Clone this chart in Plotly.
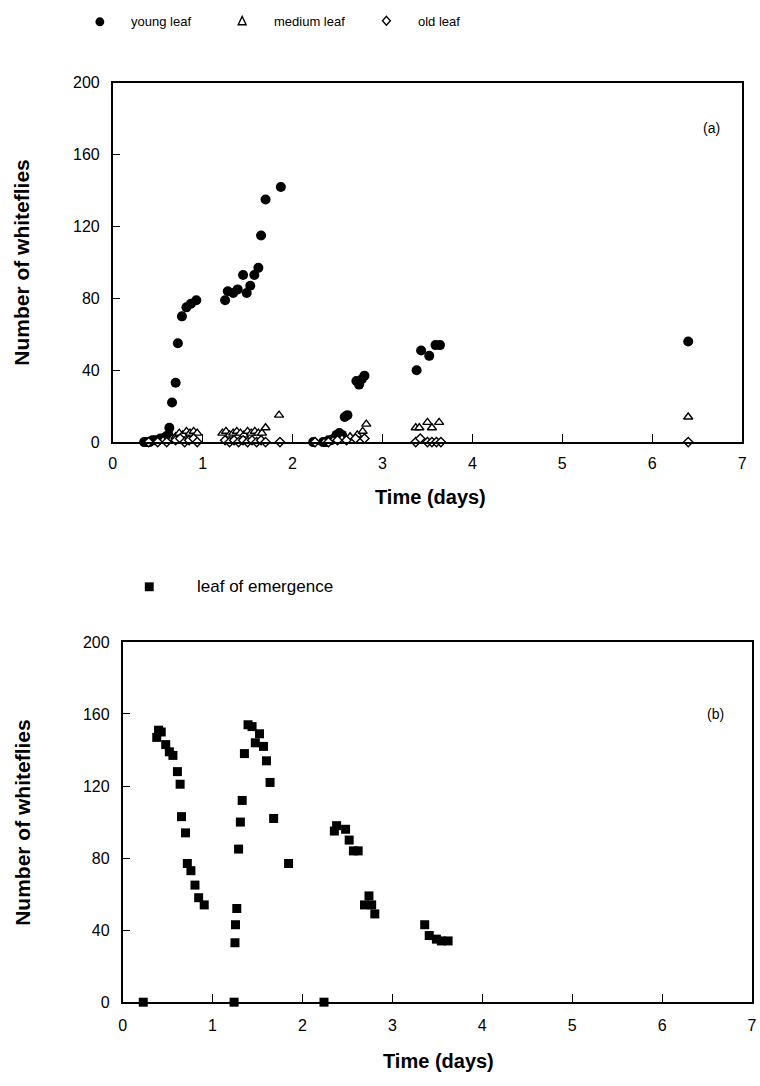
import plotly.graph_objects as go

W, H = 760, 1086

# ---------------- data (panel a) ----------------
young_t = [0.35, 0.38, 0.41, 0.44, 0.47, 0.50, 0.53, 0.56, 0.59, 0.62, 0.63, 0.66, 0.70, 0.725,
           0.77, 0.82, 0.87, 0.93,
           1.25, 1.28, 1.34, 1.39, 1.45, 1.49, 1.53, 1.575, 1.62, 1.65, 1.70, 1.87,
           2.23, 2.34, 2.37, 2.40, 2.43, 2.46, 2.49, 2.52, 2.55, 2.58, 2.61,
           2.71, 2.74, 2.77, 2.80,
           3.38, 3.43, 3.52, 3.59, 3.64,
           6.40]
young_n = [0, 0, 0, 1, 1, 1, 2, 2, 3, 4, 8, 22, 33, 55,
           70, 75, 77, 79,
           79, 84, 83, 85, 93, 83, 87, 93, 97, 115, 135, 142,
           0, 0, 0, 1, 1, 2, 4, 5, 4, 14, 15,
           34, 32, 35, 37,
           40, 51, 48, 54, 54,
           56]

medium_t = [0.40, 0.48, 0.56, 0.62, 0.66, 0.70, 0.74, 0.78, 0.82, 0.86, 0.90, 0.94,
            1.22, 1.26, 1.30, 1.34, 1.38, 1.42, 1.46, 1.50, 1.54, 1.58, 1.62, 1.66, 1.70, 1.85,
            2.25, 2.35, 2.45, 2.55, 2.64, 2.72, 2.78, 2.82,
            3.37, 3.41, 3.50, 3.55, 3.63,
            6.40]
medium_n = [0, 0, 1, 1, 2, 3, 5, 4, 6, 5, 6, 5,
            5, 6, 4, 5, 6, 5, 4, 6, 5, 6, 5, 5, 8, 15,
            0, 0, 1, 2, 3, 4, 6, 10,
            8, 8, 11, 8, 11,
            14]

old_t = [0.40, 0.50, 0.60, 0.70, 0.75, 0.80, 0.85, 0.90, 0.94,
         1.25, 1.30, 1.35, 1.40, 1.45, 1.50, 1.55, 1.60, 1.65, 1.70, 1.86,
         2.25, 2.40, 2.50, 2.60, 2.70, 2.80,
         3.37, 3.42, 3.50, 3.55, 3.60, 3.65,
         6.40]
old_n = [0, 0, 0, 1, 2, 0, 1, 2, 0,
         1, 0, 1, 0, 1, 0, 1, 0, 1, 0, 0,
         0, 0, 1, 1, 2, 2,
         0, 2, 0, 0, 0, 0,
         0]

# ---------------- data (panel b) ----------------
emerg_t = [0.23, 0.38, 0.40, 0.43, 0.48, 0.52, 0.56, 0.61, 0.64, 0.655, 0.70, 0.72, 0.76, 0.805, 0.846, 0.908,
           1.24, 1.25, 1.256, 1.27, 1.29, 1.31, 1.33, 1.355, 1.395, 1.44, 1.476, 1.523, 1.567, 1.60, 1.64, 1.68, 1.846,
           2.24, 2.355, 2.38, 2.48, 2.52, 2.567, 2.62, 2.69, 2.74, 2.77, 2.805,
           3.36, 3.41, 3.49, 3.545, 3.62]
emerg_n = [0, 147, 151, 150, 143, 139, 137, 128, 121, 103, 94, 77, 73, 65, 58, 54,
           0, 33, 43, 52, 85, 100, 112, 138, 154, 153, 144, 149, 142, 134, 122, 102, 77,
           0, 95, 98, 96, 90, 84, 84, 54, 59, 54, 49,
           43, 37, 35, 34, 34]

x_ticks = [0, 1, 2, 3, 4, 5, 6, 7]
y_ticks = [0, 40, 80, 120, 160, 200]

FONT = "Liberation Sans, Arial, Helvetica, sans-serif"


def px(x):
    return x / W


def py(y):
    return 1 - y / H


fig = go.Figure()

fig.add_trace(go.Scatter(x=young_t, y=young_n, mode="markers", name="young leaf",
                         marker=dict(symbol="circle", size=10, color="black", line=dict(width=0)),
                         cliponaxis=False, xaxis="x", yaxis="y"))
fig.add_trace(go.Scatter(x=medium_t, y=medium_n, mode="markers", name="medium leaf",
                         marker=dict(symbol="triangle-up", size=8, color="white",
                                     line=dict(width=1.4, color="black")),
                         cliponaxis=False, xaxis="x", yaxis="y"))
fig.add_trace(go.Scatter(x=old_t, y=old_n, mode="markers", name="old leaf",
                         marker=dict(symbol="diamond", size=7, color="white",
                                     line=dict(width=1.4, color="black")),
                         cliponaxis=False, xaxis="x", yaxis="y"))
fig.add_trace(go.Scatter(x=emerg_t, y=emerg_n, mode="markers", name="leaf of emergence",
                         marker=dict(symbol="square", size=9, color="black", line=dict(width=0)),
                         cliponaxis=False, xaxis="x2", yaxis="y2"))

axis_common = dict(showgrid=False, zeroline=False, showline=True, mirror=True,
                   linecolor="black", linewidth=1.5, ticks="inside", ticklen=8,
                   tickwidth=1.2, tickcolor="black",
                   tickfont=dict(family=FONT, size=16, color="black"))

fig.update_layout(
    width=W, height=H,
    margin=dict(l=0, r=0, t=0, b=0),
    paper_bgcolor="white", plot_bgcolor="white",
    showlegend=False,
    xaxis=dict(domain=[px(110), px(747)], range=[0, 7], tickvals=x_ticks,
               anchor="y", ticklabelstandoff=6, **axis_common),
    yaxis=dict(domain=[py(441), py(76)], range=[0, 200], tickvals=y_ticks,
               anchor="x", ticklabelstandoff=8, **axis_common),
    xaxis2=dict(domain=[px(120), px(757)], range=[0, 7], tickvals=x_ticks,
                anchor="y2", ticklabelstandoff=8, **axis_common),
    yaxis2=dict(domain=[py(1010), py(644)], range=[0, 200], tickvals=y_ticks,
                anchor="x2", ticklabelstandoff=8, **axis_common),
)

ann = []
# axis titles
for (x, y, t, ang) in [(432, 497, "Time (days)", 0), (440, 1070, "Time (days)", 0),
                       (18, 258, "Number of whiteflies", -90), (18, 827, "Number of whiteflies", -90)]:
    ann.append(dict(x=px(x), y=py(y), xref="paper", yref="paper", text="<b>%s</b>" % t,
                    showarrow=False, textangle=ang, xanchor="center", yanchor="middle",
                    font=dict(family=FONT, size=20 if ang == 0 else 21, color="black")))
# panel labels
ann.append(dict(x=px(716), y=py(122), xref="paper", yref="paper", text="(a)", showarrow=False,
                xanchor="center", yanchor="middle",
                font=dict(family=FONT, size=14, color="black")))
ann.append(dict(x=px(720), y=py(717), xref="paper", yref="paper", text="(b)", showarrow=False,
                xanchor="center", yanchor="middle",
                font=dict(family=FONT, size=14, color="black")))
# legend texts
for (x, y, t, s) in [(126, 14, "young leaf", 13), (271, 14, "medium leaf", 13), (417, 14, "old leaf", 13),
                     (193, 588, "leaf of emergence", 17)]:
    ann.append(dict(x=px(x), y=py(y), xref="paper", yref="paper", text=t, showarrow=False,
                    xanchor="left", yanchor="middle",
                    font=dict(family=FONT, size=s, color="black")))
fig.update_layout(annotations=ann)

# legend symbols (drawn as shapes in paper coordinates)
shapes = []
cx, cy, r = 97, 14, 4.5
shapes.append(dict(type="circle", xref="paper", yref="paper", x0=px(cx - r), x1=px(cx + r),
                   y0=py(cy + r), y1=py(cy - r), fillcolor="black", line=dict(color="black", width=0)))
tx, ty = 241, 13
shapes.append(dict(type="path", xref="paper", yref="paper",
                   path="M %f %f L %f %f L %f %f Z" % (px(tx - 4), py(ty + 4), px(tx + 4), py(ty + 4),
                                                        px(tx), py(ty - 4.5)),
                   fillcolor="white", line=dict(color="black", width=1.4)))
dx, dy = 387, 13
shapes.append(dict(type="path", xref="paper", yref="paper",
                   path="M %f %f L %f %f L %f %f L %f %f Z" % (px(dx), py(dy - 4.5), px(dx + 4), py(dy),
                                                                px(dx), py(dy + 4.5), px(dx - 4), py(dy)),
                   fillcolor="white", line=dict(color="black", width=1.4)))
sx, sy = 147, 588
shapes.append(dict(type="rect", xref="paper", yref="paper", x0=px(sx - 4.5), x1=px(sx + 4.5),
                   y0=py(sy + 4.5), y1=py(sy - 4.5), fillcolor="black", line=dict(color="black", width=0)))
fig.update_layout(shapes=shapes)

fig.write_html("out.html")
